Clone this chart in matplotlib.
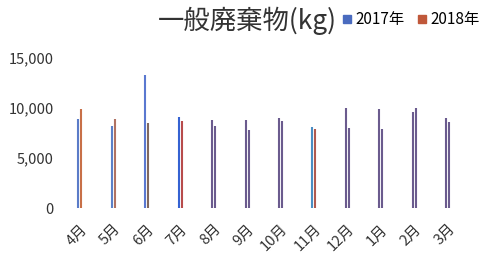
import matplotlib
matplotlib.use("Agg")
import matplotlib.pyplot as plt
import numpy as np

plt.rcParams['font.family'] = ['Noto Sans CJK JP', 'DejaVu Sans']

months = ['4月', '5月', '6月', '7月', '8月', '9月', '10月', '11月', '12月', '1月', '2月', '3月']
y2017 = [8900, 8230, 13300, 9070, 8830, 8800, 9000, 8130, 9970, 9930, 9630, 8970]
y2018 = [9870, 8900, 8470, 8700, 8230, 7770, 8700, 7900, 7970, 7900, 9970, 8630]

purple = '#6b5b8e'
c2017 = ['#5b7cc8', '#5b80c8', '#5a78d0', '#3562d2', purple, purple, purple, '#4a8ec4', purple, purple, purple, purple]
c2018 = ['#c87048', '#b07262', '#80685e', '#b84c4c', purple, purple, purple, '#b05a50', purple, purple, purple, purple]

fig = plt.figure(figsize=(4.94, 2.64), dpi=100)
ax = fig.add_axes([0.128, 0.212, 0.812, 0.568])

x = np.arange(len(months))
ax.vlines(x - 0.045, 0, y2017, colors=c2017, linewidth=1.5, label='2017年')
ax.vlines(x + 0.045, 0, y2018, colors=c2018, linewidth=1.5, label='2018年')

ax.set_xlim(-0.5, 11.5)
ax.set_ylim(0, 15000)
ax.set_yticks([0, 5000, 10000, 15000])
ax.set_yticklabels(['0', '5,000', '10,000', '15,000'], fontsize=10.5, color='#333333')
ax.set_xticks(x)
ax.set_xticklabels(months, rotation=45, ha='right', rotation_mode='anchor', fontsize=10.5, color='#333333')
ax.tick_params(axis='x', length=0, pad=10)
ax.tick_params(axis='y', length=0, pad=7)
for s in ax.spines.values():
    s.set_visible(False)

fig.text(0.50, 0.92, '一般廃棄物(kg)', ha='center', va='center', fontsize=19, color='#333333')
h = [plt.Rectangle((0, 0), 1, 1, color='#4a6bbf'), plt.Rectangle((0, 0), 1, 1, color='#c0583a')]
fig.legend(h, ['2017年', '2018年'], loc='center left', bbox_to_anchor=(0.695, 0.925), ncol=2,
           frameon=False, fontsize=11, handlelength=0.5, handleheight=0.5, handletextpad=0.3,
           columnspacing=0.9, borderaxespad=0, borderpad=0)

fig.savefig('out.png', dpi=100)
